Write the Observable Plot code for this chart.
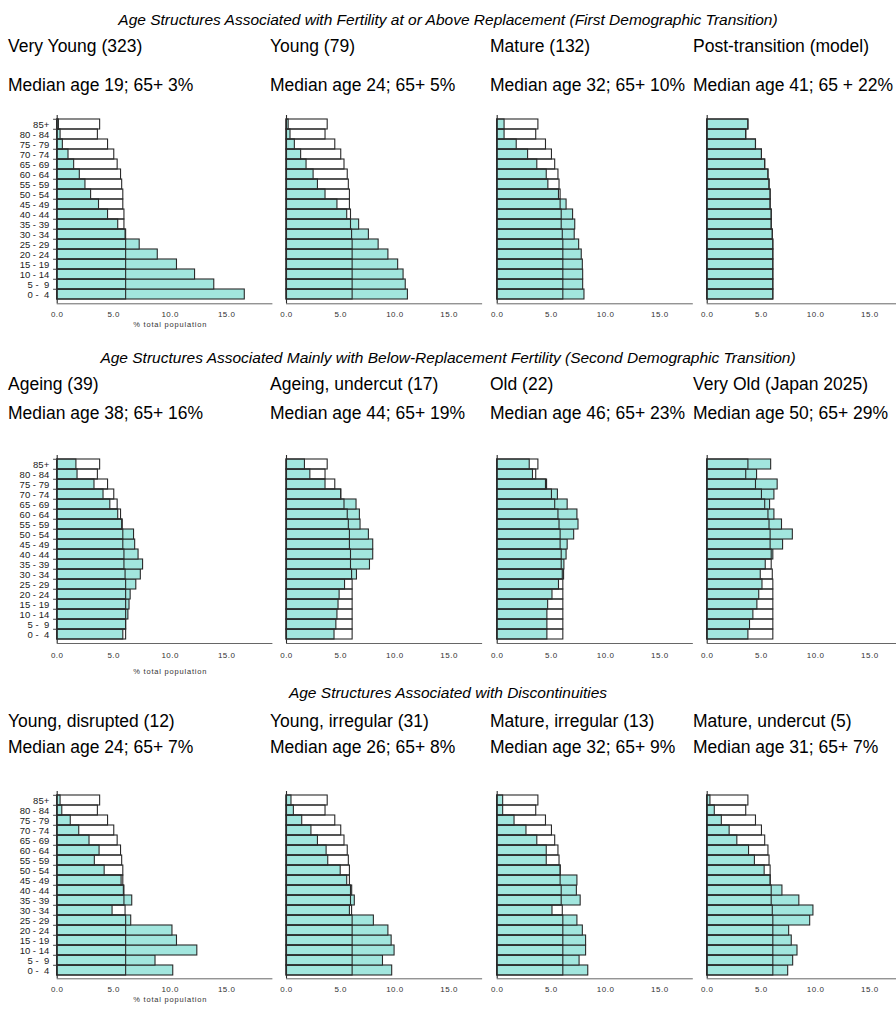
<!DOCTYPE html>
<html><head><meta charset="utf-8">
<script src="https://cdn.jsdelivr.net/npm/d3@7"></script>
<script src="https://cdn.jsdelivr.net/npm/@observablehq/plot@0.6"></script>
<style>
html,body{margin:0;padding:0;background:#fff;}
body{width:896px;height:1012px;overflow:hidden;font-family:Arial,"Liberation Sans",sans-serif;}
#root{position:relative;width:896px;height:1012px;}
.t{position:absolute;white-space:nowrap;line-height:1;color:#000;}
.rt{font-style:italic;font-size:15.5px;width:896px;text-align:center;left:0;}
.pt{font-size:17.5px;}
svg.pp{position:absolute;overflow:visible;}
svg.pp g[aria-label="text"] text{letter-spacing:0.8px;}
svg.pp g[aria-label="x-axis tick label"] text{letter-spacing:0.5px;}
</style></head><body><div id="root"></div>
<script>
const ages = ["0 -  4","5 -  9","10 - 14","15 - 19","20 - 24","25 - 29","30 - 34","35 - 39","40 - 44","45 - 49","50 - 54","55 - 59","60 - 64","65 - 69","70 - 74","75 - 79","80 - 84","85+"];
const modelProfile   = [6.1,6.1,6.1,6.1,6.1,6.1,6.05,5.95,5.95,5.85,5.85,5.75,5.65,5.35,5.05,4.5,3.6,3.8];
const veryYoung      = [16.6,13.9,12.2,10.6,8.9,7.3,6.1,5.4,4.5,3.7,3.0,2.5,2.0,1.5,1.0,0.5,0.3,0.15];
const young          = [11.2,11.0,10.8,10.3,9.4,8.5,7.6,6.7,5.6,4.7,3.6,2.9,2.5,1.85,1.35,0.77,0.37,0.2];
const mature         = [8.05,7.93,7.93,7.9,7.8,7.56,7.15,7.2,7.0,6.4,5.7,4.72,4.57,3.7,2.85,1.8,0.68,0.68];
const ageing         = [5.85,6.1,6.3,6.4,6.5,7.0,7.4,7.6,7.2,6.9,6.8,5.8,5.4,4.7,4.1,3.3,1.8,1.7];
const ageingUndercut = [4.43,4.6,4.7,4.8,4.9,5.4,6.5,7.7,8.0,8.0,7.6,6.83,6.77,6.46,5.05,3.6,2.2,1.7];
const old            = [4.63,4.63,4.63,4.7,5.1,5.7,6.17,6.2,6.4,6.5,7.1,7.5,7.4,6.5,5.6,4.6,3.3,3.0];
const japan2025      = [3.8,3.95,4.26,4.63,4.8,5.1,4.94,5.4,6.1,7.0,7.9,6.9,6.2,5.8,6.2,6.5,4.6,5.9];
const youngDisrupted = [10.27,8.7,12.4,10.6,10.2,6.55,4.9,6.64,5.9,5.7,4.2,3.33,3.75,2.86,1.95,1.2,0.45,0.3];
const youngIrregular = [9.75,8.9,9.97,9.7,9.4,8.06,5.85,6.3,6.06,5.6,5.0,3.85,3.7,2.9,2.3,1.45,0.68,0.46];
const matureIrregular= [8.4,7.6,8.2,8.2,7.9,7.4,5.1,7.7,7.35,7.4,5.86,4.57,4.57,3.7,2.7,1.6,0.55,0.55];
const matureUndercut = [7.47,7.93,8.33,7.8,7.56,9.5,9.8,8.5,6.94,5.86,5.3,4.4,3.86,2.78,2.07,1.35,0.7,0.3];

const rowTitles = [
  "Age Structures Associated with Fertility at or Above Replacement (First Demographic Transition)",
  "Age Structures Associated Mainly with Below-Replacement Fertility (Second Demographic Transition)",
  "Age Structures Associated with Discontinuities"
];
const panelTitles = [
  ["Very Young (323)","Young (79)","Mature (132)","Post-transition (model)"],
  ["Ageing (39)","Ageing, undercut (17)","Old (22)","Very Old (Japan 2025)"],
  ["Young, disrupted (12)","Young, irregular (31)","Mature, irregular (13)","Mature, undercut (5)"]
];
const medianLabels = [
  ["Median age 19; 65+ 3%","Median age 24; 65+ 5%","Median age 32; 65+ 10%","Median age 41; 65 + 22%"],
  ["Median age 38; 65+ 16%","Median age 44; 65+ 19%","Median age 46; 65+ 23%","Median age 50; 65+ 29%"],
  ["Median age 24; 65+ 7%","Median age 26; 65+ 8%","Median age 32; 65+ 9%","Median age 31; 65+ 7%"]
];
const series = [
  [veryYoung, young, mature, modelProfile],
  [ageing, ageingUndercut, old, japan2025],
  [youngDisrupted, youngIrregular, matureIrregular, matureUndercut]
];
const xTicks = [0, 5, 10, 15];
const axisCaption = "% total population";

// layout
const teal = "#a2e6de";
const ink = "#2a2a2a";
const cols = [
  {left: 0,   origin: 56.7,  k: 11.3,  max: 19,   next: 272},
  {left: 272, origin: 286,   k: 10.84, max: 18,   next: 482},
  {left: 482, origin: 496.7, k: 10.84, max: 18,   next: 692},
  {left: 692, origin: 706.7, k: 10.84, max: 17.4, next: 896}
];
const rows = [
  {titleY: 20,  panelY: 47,  medY: 86,  top: 115,   bottom: 303.3, tickPad: 7.5, capDy: 23},
  {titleY: 358, panelY: 385, medY: 414, top: 455.3, bottom: 643.3, tickPad: 9,   capDy: 30},
  {titleY: 693, panelY: 722, medY: 748, top: 790.7, bottom: 978,   tickPad: 7.8, capDy: 23.5}
];
const root = document.getElementById("root");
function addText(cls, txt, x, cy, fs) {
  const d = document.createElement("div");
  d.className = "t " + cls;
  d.textContent = txt;
  d.style.top = (cy - fs / 2) + "px";
  if (x !== null) d.style.left = x + "px";
  root.appendChild(d);
}
const titleX = [8, 270, 490, 693];
const topDown = ages.slice().reverse();

rows.forEach((r, ri) => {
  addText("rt", rowTitles[ri], null, r.titleY, 15.5);
  cols.forEach((c, ci) => {
    addText("pt", panelTitles[ri][ci], titleX[ci], r.panelY, 17.5);
    addText("pt", medianLabels[ri][ci], titleX[ci], r.medY, 17.5);
    const data = ages.map((a, i) => ({age: a, v: series[ri][ci][i], m: modelProfile[i]}));
    const width = c.next - c.left;
    const ml = c.origin - c.left;
    const mr = width - ml - c.max * c.k;
    const mt = 10, mb = 40;
    const height = (r.bottom - r.top) + mt + mb;
    const bw = (r.bottom - r.top) / ages.length;
    const marks = [
      Plot.barX(data, {x: "v", y: "age", fill: teal, stroke: ink, strokeWidth: 1.1}),
      Plot.barX(data, {x: "m", y: "age", fill: "none", stroke: ink, strokeWidth: 1.1}),
      Plot.frame({anchor: "bottom", stroke: "#666", strokeWidth: 1}),
      Plot.ruleX([0], {stroke: ink, strokeWidth: 1.1}),
      Plot.axisX({ticks: xTicks, tickFormat: d3.format(".1f"), tickSize: 0, tickPadding: r.tickPad, fontSize: 8, fill: "#333", label: null})
    ];
    if (ci === 0) {
      marks.push(Plot.axisY({tickSize: 0, tickPadding: 8, fontSize: 9.5, fill: "#222", label: null}));
      marks.push(Plot.ruleY(topDown, {y: d => d, x1: -0.32, x2: 0, dy: -bw / 2, stroke: "#444"}));
      marks.push(Plot.text([axisCaption], {x: 10, frameAnchor: "bottom", dy: r.capDy, fontSize: 7.5, fill: "#333"}));
    }
    const svg = Plot.plot({
      width, height,
      marginLeft: ml, marginRight: mr, marginTop: mt, marginBottom: mb,
      style: {fontFamily: "Arial, 'Liberation Sans', sans-serif", background: "transparent", overflow: "visible"},
      x: {domain: [0, c.max], axis: null},
      y: {domain: topDown, padding: 0, axis: null},
      marks
    });
    svg.classList.add("pp");
    svg.style.left = c.left + "px";
    svg.style.top = (r.top - mt) + "px";
    root.appendChild(svg);
  });
});
</script>
</body></html>
